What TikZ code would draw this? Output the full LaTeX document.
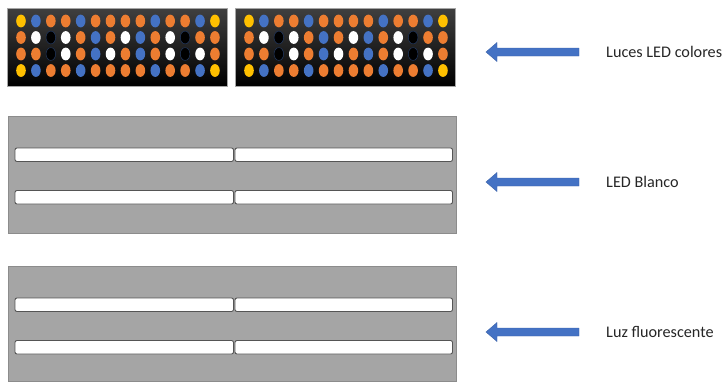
\documentclass[tikz,border=0pt]{standalone}
\usepackage{fontspec}
\setmainfont{Carlito}
\definecolor{ledyel}{HTML}{FFC000}
\definecolor{ledblu}{HTML}{4472C4}
\definecolor{ledora}{HTML}{ED7D31}
\definecolor{ledblk}{HTML}{000000}
\definecolor{panelgray}{HTML}{A5A5A5}
\definecolor{panelborder}{HTML}{8C8C8C}
\definecolor{tubeborder}{HTML}{555555}
\definecolor{arrowblue}{HTML}{4472C4}
\tikzset{
  ledY/.style={fill=ledyel},
  ledB/.style={fill=ledblu},
  ledO/.style={fill=ledora},
  ledW/.style={fill=white},
  ledK/.style={fill=ledblk,draw=ledblu!50!black,line width=0.5pt},
  ledpanel/.style={draw=gray!70,line width=0.8pt,top color=black!75,bottom color=black},
  graypanel/.style={draw=panelborder,line width=0.8pt,fill=panelgray},
  tube/.style={draw=tubeborder,line width=0.9pt,fill=white,rounded corners=2pt},
  label/.style={anchor=west,inner sep=0pt,font=\fontsize{16.2}{19}\selectfont,text=black!85},
  bigarrow/.style={fill=arrowblue,draw=arrowblue!85!black,line width=0.4pt}
}
\begin{document}
\begin{tikzpicture}[x=1pt,y=-1pt]
\useasboundingbox (0,0) rectangle (728,381);
% LED panels
\foreach \px/\nm in {7/ledA,235/ledB}{
  \path[ledpanel] (\px,8) rectangle ++(220,78);
  \foreach \row/\yy in {{Y,B,O,O,B,O,O,O,O,B,O,O,B,Y}/21,
                        {O,W,K,W,O,B,O,W,B,O,W,K,O,O}/37.5,
                        {O,O,K,W,O,B,W,O,B,O,W,K,W,O}/54,
                        {Y,B,O,O,B,O,O,O,O,B,O,O,B,Y}/70.5}{
    \foreach \c [count=\i from 0] in \row {
      \path[led\c] ({\px+14+\i*14.92},\yy) ellipse (4.8 and 6.4);
    }
  }
}
% gray panels with tubes
\foreach \top/\ya/\yb in {116/148/190.5, 266/298/340.5}{
  \path[graypanel] (8,\top) rectangle (456,{min(\top+117,381.5)});
  \foreach \yy in {\ya,\yb}{
    \path[tube] (15,\yy) rectangle (233.5,\yy+13.5);
    \path[tube] (235,\yy) rectangle (452.5,\yy+13.5);
  }
}
% arrows and labels
\foreach \yy/\txt/\nm in {52/Luces LED colores/t1, 182/LED Blanco/t2, 332/Luz fluorescente/t3}{
  \coordinate (\nm tip) at (486,\yy);
  \path[bigarrow] (\nm tip) -- (497,\yy-9.5) -- (497,\yy-4) -- (579,\yy-4) -- (579,\yy+4) -- (497,\yy+4) -- (497,\yy+9.5) -- cycle;
  \node[label] (\nm) at (606,\yy) {\txt};
}
\end{tikzpicture}
\end{document}
